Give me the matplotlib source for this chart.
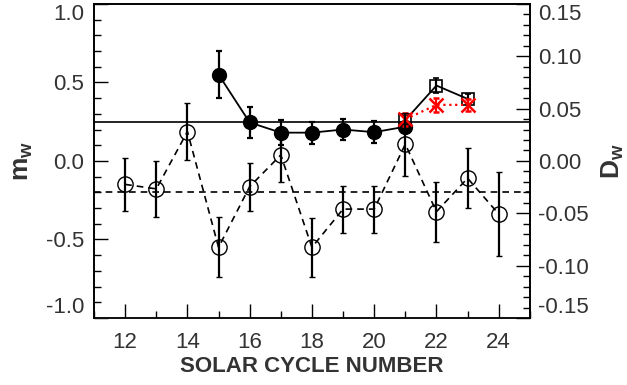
import numpy as np
import matplotlib
matplotlib.use('Agg')
import matplotlib.pyplot as plt
from matplotlib.ticker import MultipleLocator

plt.rcParams['font.family'] = ['Liberation Sans', 'DejaVu Sans']
plt.rcParams['mathtext.fontset'] = 'custom'
plt.rcParams['mathtext.rm'] = 'Liberation Sans'
plt.rcParams['mathtext.bf'] = 'Liberation Sans:bold'

# m_w of filled circles (solid line)
cyc_m = [15, 16, 17, 18, 19, 20, 21]
mw = [0.55, 0.245, 0.18, 0.18, 0.20, 0.183, 0.218]
mw_err = [0.15, 0.10, 0.08, 0.07, 0.065, 0.07, 0.03]

# squares (solid line)
cyc_sq = [21, 22, 23]
mw_sq = [0.26, 0.48, 0.395]
mw_sq_err = [0.035, 0.05, 0.03]

# red crosses (dotted)
cyc_x = [21, 22, 23]
mw_x = [0.265, 0.357, 0.357]
mw_x_err = [0.04, 0.045, 0.04]

# D_w of open circles (dashed line)
cyc_d = [12, 13, 14, 15, 16, 17, 18, 19, 20, 21, 22, 23, 24]
dw = [-0.0224, -0.0267, 0.028, -0.0825, -0.0245, 0.0057, -0.0825,
      -0.046, -0.046, 0.016, -0.0485, -0.0165, -0.0507]
dw_err = [0.0255, 0.027, 0.027, 0.0285, 0.023, 0.0255, 0.028,
          0.0225, 0.0225, 0.03, 0.0285, 0.0285, 0.0405]

mw_mean = 0.25
dw_mean = -0.03

txt = '#333333'

fig = plt.figure(figsize=(6.27, 3.85), dpi=100)
ax = fig.add_axes([0.150, 0.174, 0.695, 0.816])
ax2 = ax.twinx()

ax.axhline(mw_mean, color='black', lw=1.2, zorder=1)
ax2.axhline(dw_mean, color='black', lw=1.2, ls=(0, (4, 3)), zorder=1)

ax2.errorbar(cyc_d, dw, yerr=dw_err, fmt='o', ls=(0, (4, 3)), color='black',
             mfc='none', ms=11, mew=1.0, lw=1.2, elinewidth=1.6, capsize=2,
             capthick=1.6)

ax.errorbar(cyc_m, mw, yerr=mw_err, fmt='o', ls='-', color='black', ms=10,
            lw=1.3, elinewidth=1.6, capsize=2, capthick=1.6, zorder=3)
ax.errorbar(cyc_sq, mw_sq, yerr=mw_sq_err, fmt='s', ls='-', color='black',
            mfc='none', ms=9, mew=1.2, lw=1.3, elinewidth=1.6, capsize=2,
            capthick=1.6, zorder=4)
ax.errorbar(cyc_x, mw_x, yerr=mw_x_err, fmt='x', ls=':', color='red', ms=10,
            mew=1.8, lw=1.6, elinewidth=1.6, capsize=2, capthick=1.6, zorder=5)

ax.set_xlim(11, 25)
ax.set_ylim(-1.0, 1.0)
ax2.set_ylim(-0.15, 0.15)

ax.xaxis.set_major_locator(MultipleLocator(2))
ax.xaxis.set_minor_locator(MultipleLocator(1))
ax.yaxis.set_major_locator(MultipleLocator(0.5))
ax.yaxis.set_minor_locator(MultipleLocator(0.1))
ax2.yaxis.set_major_locator(MultipleLocator(0.05))
ax2.yaxis.set_minor_locator(MultipleLocator(0.01))
ax.yaxis.set_major_formatter(plt.FormatStrFormatter('%.1f'))
ax2.yaxis.set_major_formatter(plt.FormatStrFormatter('%.2f'))

ax.tick_params(axis='both', which='major', direction='in', length=10,
               width=1, labelsize=16, labelcolor=txt)
ax.tick_params(axis='y', which='major', pad=7)
ax.tick_params(axis='x', which='major', pad=10)
ax.tick_params(axis='both', which='minor', direction='in', length=5, width=1)
ax2.tick_params(axis='y', which='major', direction='in', length=10, width=1,
                labelsize=16, labelcolor=txt, pad=6)
ax2.tick_params(axis='y', which='minor', direction='in', length=5, width=1)

for a in (ax, ax2):
    for s in a.spines.values():
        s.set_linewidth(1.2)
ax.spines['bottom'].set_color('#666666')

ax.set_xlabel('SOLAR CYCLE NUMBER', fontsize=16, fontweight='bold', color=txt,
              labelpad=2)
ax.set_ylabel(r'$\mathbf{m_w}$', fontsize=19, color=txt, labelpad=8)
ax2.set_ylabel(r'$\mathbf{D_w}$', fontsize=19, color=txt, labelpad=8)

# keep end labels inside the frame
fig.canvas.draw()
for a in (ax, ax2):
    lo, hi = a.get_ylim()
    for t in a.yaxis.get_major_ticks():
        if abs(t.get_loc() - hi) < 1e-9:
            t.label1.set_va('top')
            t.label2.set_va('top')
        elif abs(t.get_loc() - lo) < 1e-9:
            t.label1.set_va('bottom')
            t.label2.set_va('bottom')

fig.savefig('out.png', dpi=100)
